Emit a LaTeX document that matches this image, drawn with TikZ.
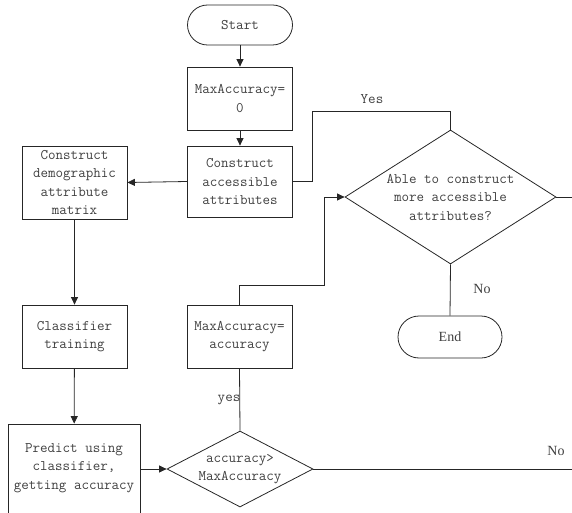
\documentclass[tikz,border=0pt]{standalone}
\usepackage{fontspec}
\newfontfamily\lblfont{Liberation Serif}
\usetikzlibrary{shapes.geometric,arrows.meta}
\tikzset{
  x=1pt,y=-1pt,
  every node/.style={text=black!75},
  txt/.style={font=\ttfamily\fontsize{14.6}{18.5}\selectfont,align=center,inner sep=0pt},
  boxs/.style={draw=black!85,line width=0.8pt,rectangle,minimum width=105pt,inner sep=0pt},
  term/.style={draw=black!85,line width=0.8pt,rectangle,rounded corners=20pt,inner sep=0pt},
  dia/.style={draw=black!85,line width=0.8pt,diamond,inner sep=0pt},
  conn/.style={draw=black!85,line width=0.8pt},
  arr/.style={conn,-{Triangle[length=7.5pt,width=7pt]}},
  lbl/.style={font=\lblfont\fontsize{14}{16}\selectfont,inner sep=0pt},
  mlbl/.style={font=\ttfamily\fontsize{14.6}{16}\selectfont,inner sep=0pt},
}
\begin{document}
\begin{tikzpicture}
\useasboundingbox (0,0) rectangle (572,513);
\clip (0,0) rectangle (572,513);
\node[term,minimum width=105pt,minimum height=40pt] (start) at (240,25) {};
\node[txt] (starttxt) at (start.center) {Start};
\node[boxs,minimum height=63pt] (m0) at (240,98.5) {};
\node[txt] (m0txt) at (m0.center) {MaxAccuracy=\\0};
\node[boxs,minimum height=71pt] (acc) at (240,181.5) {};
\node[txt] (acctxt) at (acc.center) {Construct\\accessible\\attributes};
\node[boxs,minimum height=73pt] (demo) at (74.5,182.5) {};
\node[txt] (demotxt) at (demo.center) {Construct\\demographic\\attribute\\matrix};
\node[boxs,minimum height=63pt] (cls) at (74.5,336.5) {};
\node[txt] (clstxt) at (cls.center) {Classifier\\training};
\node[boxs,minimum width=132pt,minimum height=96pt] (pred) at (74,472) {};
\node[txt] (predtxt) at (74,468) {Predict using\\classifier,\\getting accuracy};
\node[boxs,minimum height=63pt] (maxacc) at (239.5,336.5) {};
\node[txt] (maxacctxt) at (maxacc.center) {MaxAccuracy=\\accuracy};
\node[dia,minimum width=146pt,minimum height=76pt] (d2) at (240,469) {};
\node[txt] (d2txt) at (d2.center) {accuracy>\\MaxAccuracy};
\node[dia,minimum width=211pt,minimum height=134pt] (d1) at (450.5,197) {};
\node[txt] (d1txt) at (d1.center) {Able to construct\\more accessible\\attributes?};
\node[term,minimum width=104pt,minimum height=42pt,rounded corners=21pt] (end) at (450,337) {};
\node[lbl] (endtxt) at (end.center) {End};

\coordinate (k1) at (324,285);
\coordinate (k2) at (312,111);
\coordinate (r1) at (572,197);
\coordinate (r2) at (572,469);

\draw[arr] (start) -- (m0);
\draw[arr] (m0) -- (acc);
\draw[arr] (acc.west) -- (demo.east);
\draw[arr] (demo) -- (cls);
\draw[arr] (cls) -- (pred);
\draw[arr] (d2.west -| pred.east) -- (d2.west);
\draw[conn] (d2.north) -- (maxacc.south);
\node[mlbl,anchor=east] (yes2) at (240.5,400) {yes};
\draw[arr] (maxacc.north) |- (k1) |- (d1.west);
\draw[conn] (acc.east) -| (k2) -| (d1.north);
\node[mlbl] (yes1) at (372,99) {Yes};
\draw[conn] (d1.east) -- (r1);
\draw[conn] (d1.south) -- (end.north);
\node[lbl] (no1) at (482,289) {No};
\draw[conn] (d2.east) -- (r2);
\node[lbl] (no2) at (556,451) {No};
\end{tikzpicture}
\end{document}
